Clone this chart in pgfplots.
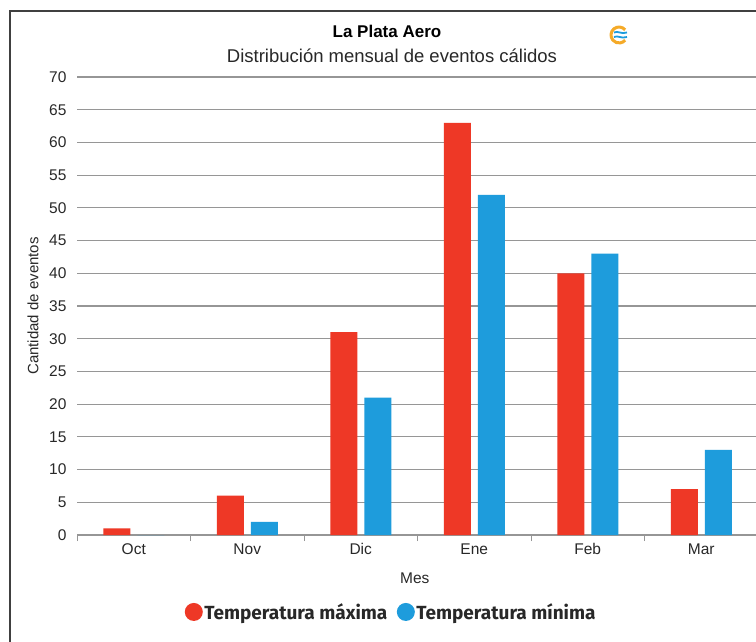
\documentclass[border=0pt]{standalone}
\usepackage{fontspec}
\setmainfont{Liberation Sans}
\newfontfamily\legfont{Fira Sans}
\usepackage{pgfplots}
\pgfplotsset{compat=1.18}
\definecolor{cred}{RGB}{238,56,38}
\definecolor{cblue}{RGB}{30,156,220}
\definecolor{gridc}{RGB}{150,150,150}
\definecolor{txt}{RGB}{40,40,40}
\definecolor{logoor}{RGB}{245,170,40}
\begin{document}
\begin{tikzpicture}
\path[use as bounding box] (0pt,0pt) rectangle (756pt,-642pt);
\clip (0pt,0pt) rectangle (756pt,-642pt);
\fill[white] (0pt,0pt) rectangle (756pt,-642pt);
\draw[line width=2pt, black!75] (10pt,-11.5pt) rectangle (820pt,-700pt);
% titles
\node[font=\fontsize{17}{20}\selectfont\bfseries, text=black] at (387pt,-31pt) {La Plata Aero};
\node[font=\fontsize{18.5}{22}\selectfont, text=txt] at (392pt,-56pt) {Distribución mensual de eventos cálidos};
% logo
\draw[logoor, line width=3pt] (619pt,-35pt) ++(40:8pt) arc (40:320:8pt);
\draw[cblue, line width=1.8pt] (614pt,-32.5pt) .. controls (618pt,-30.5pt) and (621pt,-34.5pt) .. (627pt,-32.5pt);
\draw[cblue, line width=1.8pt] (614pt,-37pt) .. controls (618pt,-35pt) and (621pt,-39pt) .. (627pt,-37pt);
\begin{axis}[
  at={(77pt,-535pt)}, anchor=south west,
  scale only axis, width=681pt, height=458pt,
  xmin=-0.5, xmax=5.5, ymin=0, ymax=70,
  ybar, bar width=27pt, ybar=7pt,
  axis x line*=bottom, axis y line*=left,
  y axis line style={draw=none},
  x axis line style={gridc, line width=1.2pt},
  xtick={0,1,2,3,4,5},
  xticklabels={Oct,Nov,Dic,Ene,Feb,Mar},
  minor xtick={-0.5,0.5,1.5,2.5,3.5,4.5,5.5},
  tick align=outside,
  major tick length=0pt,
  minor tick length=6pt,
  minor x tick style={gridc, line width=1pt},
  ytick={0,5,...,70},
  ymajorgrids, major grid style={gridc, line width=1.2pt},
  ytick style={draw=none},
  /pgf/number format/assume math mode=true,
  ticklabel style={font=\fontsize{15.5}{18}\selectfont, text=txt},
  yticklabel style={xshift=-7pt},
  xticklabel style={yshift=-5pt},
  xlabel={Mes}, ylabel={Cantidad de eventos},
  xlabel style={font=\fontsize{15.5}{18}\selectfont, text=txt, at={(axis description cs:0.496,-0.094)}, anchor=center},
  ylabel style={font=\fontsize{15}{18}\selectfont, text=txt, at={(axis description cs:-0.0646,0.50)}, anchor=center},
  legend style={at={(axis description cs:0.461,-0.168)}, anchor=center, draw=none, fill=none,
    font=\legfont\fontsize{19}{22}\selectfont\bfseries, text=txt,
    /tikz/every even column/.style={column sep=8pt},
    nodes={inner sep=1.5pt}},
  legend columns=2,
  clip=true,
]
\addplot[fill=cred, draw=none, legend image code/.code={\fill[cred] (0pt,0pt) circle (9pt);}]
  coordinates {(0,1) (1,6) (2,31) (3,63) (4,40) (5,7)};
\addplot[fill=cblue, draw=none, legend image code/.code={\fill[cblue] (0pt,0pt) circle (9pt);}]
  coordinates {(0,0) (1,2) (2,21) (3,52) (4,43) (5,13)};
\legend{Temperatura máxima, Temperatura mínima}
\end{axis}
\end{tikzpicture}
\end{document}
